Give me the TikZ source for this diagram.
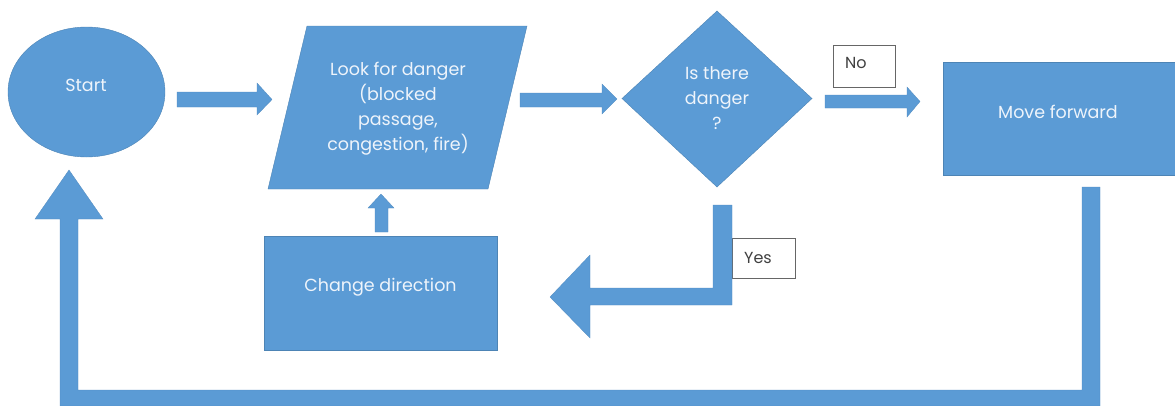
\documentclass[tikz,border=0pt]{standalone}
\usepackage{fontspec}
\setmainfont{Poppins}
\usetikzlibrary{calc,shapes.geometric}
\definecolor{obox}{HTML}{5B9BD5}
\definecolor{otext}{HTML}{EEF4FB}
\definecolor{lbl}{HTML}{404040}
\tikzset{
  shapefill/.style={fill=obox, draw=obox!85!black, line width=0.4pt},
  blockarrow/.style={fill=obox, draw=obox!90!black, line width=0.3pt},
  boxtext/.style={text=otext, align=center, font=\fontsize{17.5}{25}\selectfont, inner sep=0pt},
  labelbox/.style={draw=lbl!80, fill=white, line width=1pt, inner sep=0pt, anchor=north west},
  labeltext/.style={font=\fontsize{16}{18}\selectfont, text=lbl, anchor=west, inner sep=0pt}
}
\begin{document}
\begin{tikzpicture}[x=1pt,y=-1pt]
\useasboundingbox (0,0) rectangle (1175,405);
% Start
\node[ellipse, shapefill, minimum width=157, minimum height=130, inner sep=0pt] (start) at (86.5,92) {};
\node[boxtext] (starttext) at (86,85) {Start};
% Look for danger (parallelogram)
\coordinate (lookBL) at (268,189);
\coordinate (lookBR) at (488,189);
\coordinate (lookTR) at (527,26);
\coordinate (lookTL) at (307,26);
\fill[shapefill] (lookBL) -- (lookBR) -- (lookTR) -- (lookTL) -- cycle;
\node[boxtext] (look) at (398,109) {Look for danger\\(blocked\\passage,\\congestion, fire)};
% Diamond
\coordinate (diaL) at (622,98.5);
\coordinate (diaT) at (717,11);
\coordinate (diaR) at (812,98.5);
\coordinate (diaB) at (717,187);
\fill[shapefill] (diaL) -- (diaT) -- (diaR) -- (diaB) -- cycle;
\node[boxtext] (dia) at (717,98) {Is there\\danger\\?};
% Move forward
\node[rectangle, shapefill, minimum width=240, minimum height=113, inner sep=0pt, anchor=north west] (move) at (943,62) {};
\node[boxtext] (movetext) at (1058,112) {Move forward};
% Change direction
\node[rectangle, shapefill, minimum width=233, minimum height=114, inner sep=0pt, anchor=north west] (change) at (264,236) {};
\node[boxtext] (changetext) at (380.5,287) {Change direction};
% Labels
\node[labelbox, minimum width=62, minimum height=42] (nobox) at (833,45) {};
\node[labeltext] (no) at (845,63) {No};
\node[labelbox, minimum width=63, minimum height=40] (yesbox) at (732,238) {};
\node[labeltext] (yes) at (744,258) {Yes};
% Arrow start -> look
\draw[blockarrow] (177,92) -- (257,92) -- (257,83) -- (272,99.5) -- (257,115) -- (257,107) -- (177,107) -- cycle;
% Arrow look -> diamond
\draw[blockarrow] (520,93) -- (602,93) -- (602,84) -- (617,99) -- (602,114) -- (602,107) -- (520,107) -- cycle;
% Arrow diamond -> move (No)
\draw[blockarrow] (825,95) -- (907,95) -- (907,87) -- (920,101.5) -- (907,117) -- (907,108) -- (825,108) -- cycle;
% Arrow diamond -> change (Yes)
\draw[blockarrow] (713,205) -- (732,205) -- (732,305) -- (590,305) -- (590,338) -- (550,297) -- (590,255) -- (590,288) -- (713,288) -- cycle;
% Arrow change -> look
\draw[blockarrow] (375,232) -- (375,208) -- (368,208) -- (381,194) -- (394,208) -- (388,208) -- (388,232) -- cycle;
% Loop arrow move -> start
\draw[blockarrow] (1082,187) -- (1100,187) -- (1100,406) -- (60,406) -- (60,219) -- (35,219) -- (69,170) -- (103,219) -- (78,219) -- (78,390) -- (1082,390) -- cycle;
\end{tikzpicture}
\end{document}
